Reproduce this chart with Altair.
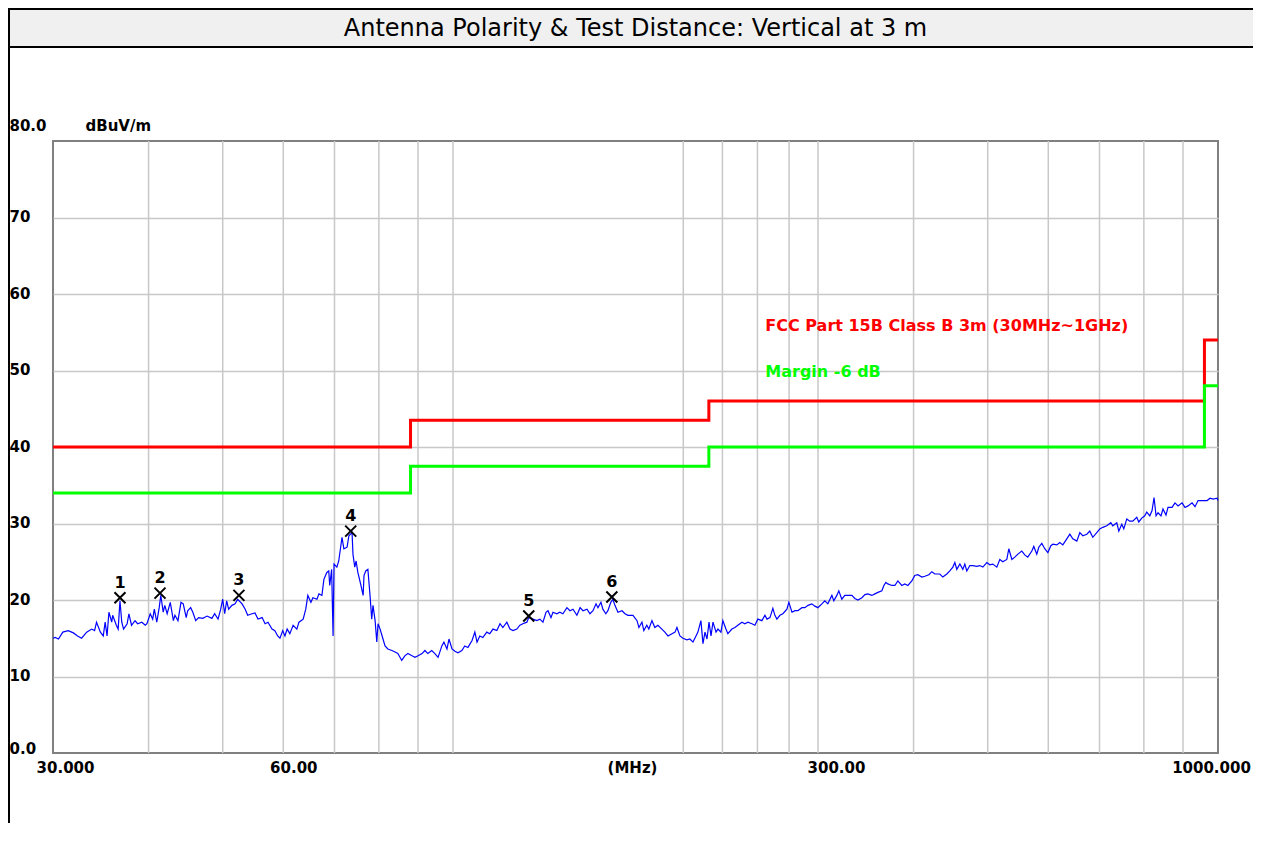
import altair as alt
import pandas as pd

FONT = "DejaVu Sans"

# ---- data ----
trace_points = [
    (30.0, 15.0), (30.2, 15.1), (30.5, 14.9), (30.9, 15.8), (31.4, 16.0), (31.9, 15.7), (32.3, 15.3), (32.7, 15.0),
    (33.2, 15.8), (33.7, 16.2), (34.0, 16.0), (34.2, 17.1), (34.6, 15.8), (34.9, 15.3), (35.1, 17.1), (35.3, 15.3),
    (35.5, 18.4), (35.8, 17.1), (35.9, 18.0), (36.3, 16.7), (36.5, 16.2), (36.7, 19.9), (36.9, 17.1), (37.1, 16.2),
    (37.5, 16.9), (37.7, 18.2), (38.0, 16.7), (38.4, 17.3), (38.7, 16.9), (39.2, 17.1), (39.6, 16.7), (39.8, 16.9),
    (40.2, 18.2), (40.5, 17.5), (40.7, 18.8), (41.0, 17.1), (41.3, 19.0), (41.5, 20.6), (41.8, 18.4), (42.0, 19.3),
    (42.3, 18.2), (42.7, 19.7), (43.1, 17.3), (43.3, 18.0), (43.7, 17.3), (44.1, 19.7), (44.4, 19.5), (44.8, 17.7),
    (45.0, 18.6), (45.4, 19.0), (45.7, 18.4), (46.1, 17.3), (46.5, 17.7), (47.1, 17.6), (47.7, 17.9), (48.4, 17.6),
    (48.8, 18.2), (49.3, 17.5), (49.7, 18.8), (50.0, 20.1), (50.3, 18.2), (50.6, 19.9), (50.9, 18.8), (51.4, 19.3),
    (51.9, 19.5), (52.3, 20.1), (53.0, 19.5), (53.5, 18.8), (53.9, 18.0), (54.6, 18.2), (55.1, 18.3), (55.6, 17.5),
    (56.3, 17.7), (56.8, 16.9), (57.3, 17.1), (58.0, 16.2), (58.5, 16.0), (59.0, 15.3), (59.4, 15.0), (59.9, 16.0),
    (60.3, 15.3), (60.7, 16.2), (61.2, 15.6), (61.8, 16.7), (62.5, 16.2), (62.9, 17.1), (63.7, 17.5), (64.2, 18.8),
    (64.6, 20.6), (65.2, 19.7), (65.6, 20.3), (66.4, 20.1), (66.8, 20.8), (67.4, 20.6), (67.8, 22.7), (68.4, 23.6),
    (68.8, 23.8), (69.0, 21.9), (69.4, 24.0), (69.7, 15.3), (69.9, 24.7), (70.5, 24.3), (70.9, 25.1), (71.6, 28.2),
    (72.0, 26.7), (72.7, 26.9), (73.1, 28.4), (73.8, 28.8), (74.0, 26.0), (74.4, 24.3), (74.7, 25.1), (75.1, 23.6),
    (75.8, 21.9), (76.3, 20.6), (76.5, 23.2), (76.9, 23.8), (77.4, 24.0), (77.9, 20.6), (78.3, 17.5), (78.6, 19.3),
    (79.1, 17.3), (79.5, 14.5), (79.8, 16.9), (80.3, 16.2), (81.0, 14.9), (81.5, 14.0), (82.2, 13.6), (83.2, 13.4),
    (84.0, 13.2), (84.7, 13.0), (85.7, 12.1), (86.5, 12.7), (87.3, 13.0), (88.4, 12.7), (89.2, 12.5), (90.0, 12.7),
    (91.1, 13.0), (91.9, 13.4), (92.7, 13.0), (93.8, 13.4), (94.7, 13.0), (95.6, 12.5), (96.7, 14.0), (97.3, 14.5),
    (98.2, 13.6), (98.8, 14.9), (99.7, 13.6), (100.6, 13.3), (101.5, 13.1), (102.7, 13.4), (103.6, 14.0), (104.6, 13.8),
    (105.9, 14.7), (106.8, 15.8), (107.5, 14.5), (108.4, 15.3), (109.4, 15.1), (110.7, 15.8), (111.7, 15.6), (112.8, 16.2),
    (114.1, 16.0), (115.2, 16.9), (116.2, 16.4), (117.6, 17.1), (118.7, 16.2), (119.8, 16.0), (121.2, 16.2), (122.3, 16.7),
    (123.4, 16.9), (124.9, 17.1), (125.6, 17.7), (127.2, 17.5), (128.7, 17.3), (129.9, 17.5), (131.1, 17.1), (132.3, 18.4),
    (133.1, 18.6), (134.3, 17.7), (135.1, 18.4), (136.7, 18.2), (137.9, 18.4), (139.2, 18.2), (140.9, 19.0), (142.2, 18.6),
    (143.5, 18.8), (145.2, 18.0), (146.6, 19.0), (147.9, 18.6), (149.7, 18.8), (151.0, 18.2), (152.4, 18.6), (153.8, 19.5),
    (154.7, 19.0), (156.1, 19.7), (157.0, 18.8), (158.4, 18.2), (159.4, 18.6), (160.8, 19.7), (161.8, 20.1), (162.8, 19.3),
    (164.3, 18.4), (166.3, 18.6), (167.8, 18.2), (169.3, 18.0), (171.9, 18.0), (174.0, 17.3), (175.0, 16.4), (176.6, 17.1),
    (177.6, 16.0), (179.2, 16.7), (180.3, 16.2), (182.0, 17.3), (183.6, 16.4), (185.3, 16.7), (187.5, 16.2), (189.2, 15.8),
    (191.0, 15.3), (193.3, 15.6), (195.1, 15.8), (196.2, 16.4), (198.0, 15.3), (199.8, 15.0), (202.2, 14.8), (204.0, 14.9),
    (205.9, 14.5), (207.8, 15.3), (209.0, 15.8), (210.9, 17.3), (212.2, 14.3), (213.5, 15.8), (214.8, 14.9), (216.1, 17.1),
    (217.4, 15.3), (218.7, 17.1), (220.7, 15.8), (222.0, 16.2), (224.0, 15.8), (225.3, 17.3), (227.4, 16.2), (228.7, 15.6),
    (231.5, 16.2), (233.6, 16.4), (235.7, 16.7), (238.6, 17.1), (240.7, 16.9), (242.9, 17.1), (245.9, 16.9), (248.1, 16.7),
    (250.3, 17.5), (253.4, 17.3), (255.7, 18.0), (257.3, 17.5), (259.6, 17.7), (261.9, 18.9), (263.5, 18.0), (265.1, 17.5),
    (267.5, 18.0), (269.9, 18.2), (273.2, 18.8), (274.8, 19.7), (277.4, 18.4), (279.9, 18.6), (282.4, 18.6), (285.8, 19.0),
    (288.4, 19.0), (291.1, 19.3), (294.5, 19.5), (297.2, 19.2), (299.9, 19.0), (303.5, 19.5), (306.2, 19.9), (309.0, 19.5),
    (312.8, 20.6), (314.6, 19.9), (317.5, 20.6), (319.4, 21.2), (322.3, 20.1), (325.2, 20.6), (328.2, 20.6), (332.2, 20.6),
    (335.2, 20.2), (338.3, 20.0), (342.4, 20.3), (345.5, 20.7), (348.6, 20.8), (352.8, 20.6), (356.0, 20.8), (359.3, 21.0),
    (363.6, 21.2), (365.8, 21.9), (368.0, 22.3), (370.2, 22.1), (374.7, 21.9), (378.1, 21.9), (381.5, 22.5), (386.1, 21.9),
    (389.6, 22.1), (393.2, 21.9), (397.9, 22.5), (401.5, 23.2), (405.2, 23.3), (410.1, 23.0), (413.8, 23.1), (418.8, 23.3),
    (422.6, 23.7), (426.4, 23.4), (432.9, 23.4), (436.8, 23.0), (442.1, 23.4), (446.1, 23.8), (450.2, 24.3), (452.9, 24.9),
    (455.6, 24.0), (459.8, 24.7), (463.9, 24.0), (466.7, 24.7), (469.5, 23.8), (473.8, 24.5), (478.1, 24.5), (483.9, 24.4),
    (488.3, 24.5), (492.7, 24.3), (498.7, 24.9), (503.2, 24.6), (507.8, 24.7), (513.9, 24.3), (518.6, 25.3), (523.3, 25.0),
    (529.6, 25.3), (532.8, 26.7), (537.7, 25.3), (542.5, 25.6), (547.5, 26.0), (554.0, 26.4), (559.0, 25.9), (564.1, 25.6),
    (571.0, 26.4), (574.4, 27.0), (579.6, 26.0), (583.1, 26.9), (588.4, 27.4), (593.7, 26.7), (599.2, 26.2), (604.7, 27.1),
    (608.3, 27.3), (615.7, 27.2), (621.1, 27.5), (626.8, 27.2), (634.4, 28.0), (640.2, 28.6), (646.0, 28.0), (653.8, 27.7),
    (659.7, 28.8), (665.7, 28.4), (673.8, 28.6), (679.8, 29.0), (686.0, 28.2), (694.3, 28.8), (700.6, 29.3), (707.0, 29.5),
    (715.6, 29.7), (724.2, 30.1), (728.6, 29.7), (737.4, 30.1), (741.9, 29.0), (748.5, 29.9), (753.1, 29.3), (759.9, 30.6),
    (766.7, 30.3), (773.7, 30.3), (783.1, 30.8), (787.8, 30.2), (795.0, 30.7), (802.2, 31.0), (807.0, 31.5), (814.4, 31.0),
    (820.0, 31.7), (824.9, 33.4), (829.9, 31.0), (834.9, 31.4), (842.3, 31.0), (847.4, 31.9), (855.1, 31.1), (860.3, 32.1),
    (870.8, 32.1), (878.6, 32.7), (886.7, 32.3), (897.4, 32.7), (905.5, 32.1), (913.8, 32.3), (924.8, 32.7), (933.2, 32.2),
    (941.7, 33.0), (956.0, 33.0), (967.6, 33.0), (976.4, 33.3), (985.3, 33.2), (997.2, 33.3), (1000.0, 33.0),
]
trace_freq = [p[0] for p in trace_points]
trace_level = [p[1] for p in trace_points]

limit_freq = [30, 88, 88, 216, 216, 960, 960, 1000]
limit_level = [40, 40, 43.5, 43.5, 46, 46, 54, 54]
margin_level = [34, 34, 37.5, 37.5, 40, 40, 48, 48]

marker_freq = [36.7, 41.4, 52.5, 73.5, 125.6, 161.3]
marker_level = [20.3, 20.9, 20.6, 29.0, 17.9, 20.4]
marker_label = ["1", "2", "3", "4", "5", "6"]

grid_freq = [40, 50, 60, 70, 80, 90, 100, 200, 225, 250, 275, 300, 400, 500, 600, 700, 800, 900]
y_ticks = [0, 10, 20, 30, 40, 50, 60, 70, 80]
x_label_values = [30, 60, 300, 1000]
x_label_text = ["30.000", "60.00", "300.00", "1000.000"]
x_label_dx = [12, 10, 18, -7]

legend_text = ["FCC Part 15B Class B 3m (30MHz~1GHz)", "Margin -6 dB"]
legend_color = ["#ff0000", "#00ff00"]
legend_freq = [256, 256]
legend_level = [55.8, 49.8]

title_text = "Antenna Polarity & Test Distance: Vertical at 3 m"

# ---- layout ----
W, H = 1165, 612
PAD = {"left": 45, "top": 133, "right": 35, "bottom": 70}
RIGHT = W + PAD["right"]

xs = alt.Scale(type="log", domain=[30, 1000], nice=False)
ys = alt.Scale(domain=[0, 80], nice=False, zero=False)

x_expr = " : ".join(
    [f"datum.value == {v} ? '{t}'" for v, t in zip(x_label_values[:-1], x_label_text[:-1])]
) + f" : '{x_label_text[-1]}'"

x_axis = alt.Axis(
    values=x_label_values, labelExpr=x_expr, labelFlush=False, labelOverlap=False,
    labelOffset={"condition": [{"test": f"datum.value == {v}", "value": d}
                               for v, d in zip(x_label_values, x_label_dx)], "value": 0},
    labelPadding=7, labelBaseline="top", labelFont=FONT, labelFontSize=15,
    labelFontWeight="bold", labelColor="black",
    title="(MHz)", titleX=579, titleY=7, titleBaseline="top", titleAlign="center",
    titleFont=FONT, titleFontSize=15, titleFontWeight="bold", titleColor="black",
    domain=False, ticks=False, tickSize=0, grid=False,
)
y_axis = alt.Axis(
    values=y_ticks,
    labelExpr="datum.value == 80 ? '80.0' : datum.value == 0 ? '0.0' : datum.label",
    labelAlign="left", labelBaseline="middle", labelPadding=44,
    labelOffset={"condition": [{"test": "datum.value == 80", "value": -16},
                               {"test": "datum.value == 0", "value": -5}], "value": -1},
    labelFont=FONT, labelFontSize=15, labelFontWeight="bold", labelColor="black",
    title="dBuV/m", titleAngle=0, titleAlign="left", titleBaseline="middle",
    titleX=32, titleY=-16, titleFont=FONT, titleFontSize=15, titleFontWeight="bold",
    titleColor="black",
    domain=False, ticks=False, tickSize=0, grid=True, gridWidth=1.5,
    gridColor={"condition": {"test": "datum.value == 0 || datum.value == 80", "value": "transparent"},
               "value": "#c8c8c8"},
)

X = alt.X("f:Q", scale=xs, axis=x_axis)
Y = alt.Y("v:Q", scale=ys, axis=y_axis)

one = pd.DataFrame({"k": [0]})

title_bar = alt.Chart(one).mark_rect(fill="#f0f0f0", strokeWidth=0).encode(
    x=alt.value(-45), x2=alt.value(RIGHT), y=alt.value(-132), y2=alt.value(-94)
)
top_line = alt.Chart(one).mark_rule(color="black", strokeWidth=2).encode(
    x=alt.value(-45), x2=alt.value(RIGHT), y=alt.value(-132)
)
bar_line = alt.Chart(one).mark_rule(color="black", strokeWidth=2).encode(
    x=alt.value(-45), x2=alt.value(RIGHT), y=alt.value(-94)
)
left_line = alt.Chart(one).mark_rule(color="black", strokeWidth=2).encode(
    x=alt.value(-44), y=alt.value(-133), y2=alt.value(H + PAD["bottom"])
)
title_mark = alt.Chart(one).mark_text(
    text=title_text, font=FONT, fontSize=24, color="black", align="center", baseline="middle"
).encode(x=alt.value(W / 2), y=alt.value(-112))

grid_rules = alt.Chart(pd.DataFrame({"f": grid_freq})).mark_rule(
    color="#c8c8c8", strokeWidth=1.5
).encode(x=X)

limit_df = pd.DataFrame({"f": limit_freq, "v": limit_level, "i": list(range(len(limit_freq)))})
margin_df = pd.DataFrame({"f": limit_freq, "v": margin_level, "i": list(range(len(limit_freq)))})

limit_line = alt.Chart(limit_df).mark_line(
    color="#ff0000", strokeWidth=3, strokeJoin="miter", strokeCap="butt"
).encode(x=X, y=Y, order="i:Q")
margin_line = alt.Chart(margin_df).mark_line(
    color="#00ff00", strokeWidth=3, strokeJoin="miter", strokeCap="butt"
).encode(x=X, y=Y, order="i:Q")

trace = alt.Chart(pd.DataFrame({"f": trace_freq, "v": trace_level})).mark_line(
    color="#0000ff", strokeWidth=1.2
).encode(x=X, y=Y)

markers_df = pd.DataFrame({"f": marker_freq, "v": marker_level, "t": marker_label})
markers = alt.Chart(markers_df).mark_point(
    shape="M-1,-1L1,1M-1,1L1,-1", size=121, filled=False, stroke="black", strokeWidth=2, opacity=1
).encode(x=X, y=Y)
marker_text = alt.Chart(markers_df).mark_text(
    font=FONT, fontSize=16, fontWeight="bold", color="black", dy=-15, baseline="middle"
).encode(x=X, y=Y, text="t:N")

legend_df = pd.DataFrame({"f": legend_freq, "v": legend_level, "t": legend_text, "c": legend_color})
legend = alt.Chart(legend_df).mark_text(
    font=FONT, fontSize=16, fontWeight="bold", align="left", baseline="middle"
).encode(x=X, y=Y, text="t:N", color=alt.Color("c:N", scale=None))

chart = alt.layer(
    title_bar, top_line, bar_line, left_line, title_mark, grid_rules, limit_line, margin_line,
    trace, markers, marker_text, legend
).properties(
    width=W, height=H, padding=PAD, autosize=alt.AutoSizeParams(type="none"),
    background="white",
).configure_view(stroke="#808080", strokeWidth=2)

chart.save("out.html", embed_options={"renderer": "svg", "actions": False})
